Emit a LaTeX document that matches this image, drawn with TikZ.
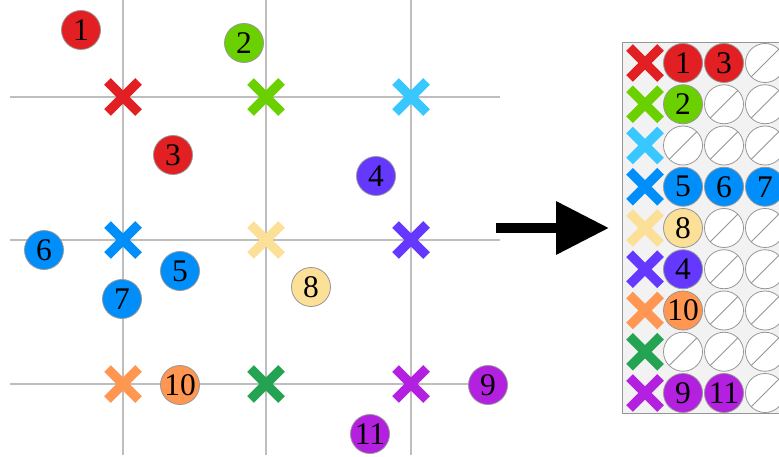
\documentclass[tikz,border=0pt]{standalone}
\usepackage{fontspec}
\setmainfont{Liberation Serif}
\usetikzlibrary{arrows.meta}

\definecolor{cred}{RGB}{226,32,35}
\definecolor{cgreen}{RGB}{106,208,0}
\definecolor{csky}{RGB}{56,200,255}
\definecolor{cblue}{RGB}{0,143,250}
\definecolor{cyellow}{RGB}{253,224,152}
\definecolor{cviolet}{RGB}{100,56,255}
\definecolor{corange}{RGB}{255,150,82}
\definecolor{cdkgreen}{RGB}{36,163,82}
\definecolor{cpurple}{RGB}{180,32,224}
\definecolor{gridgray}{RGB}{190,190,190}
\definecolor{rimgray}{RGB}{150,150,150}

\tikzset{
  dot/.style={circle, draw=rimgray, line width=0.8pt, fill=#1, minimum size=39pt,
    inner sep=0pt, font=\fontsize{31.5}{31.5}\selectfont},
  slot/.style={circle, draw=rimgray, line width=0.8pt, fill=white, minimum size=39pt,
    inner sep=0pt, path picture={\draw[rimgray, line width=0.8pt]
      (path picture bounding box.south west) -- (path picture bounding box.north east);}},
  cross/.pic={\draw[line width=9.5pt] (-15.5,-15.5) -- (15.5,15.5) (-15.5,15.5) -- (15.5,-15.5);},
}

\begin{document}
\begin{tikzpicture}[x=1pt, y=-1pt]
\useasboundingbox (0,0) rectangle (779,457);
% Grid lines
\foreach \x in {123,266,411}
  \draw[gridgray, line width=1.5pt] (\x,0) -- (\x,455);
\foreach \y in {97,240,384}
  \draw[gridgray, line width=1.5pt] (10,\y) -- (500,\y);
% Cluster centres
\pic[cred] at (123,97) {cross};
\pic[cgreen] at (266,97) {cross};
\pic[csky] at (411,97) {cross};
\pic[cblue] at (123,240) {cross};
\pic[cyellow] at (266,240) {cross};
\pic[cviolet] at (411,240) {cross};
\pic[corange] at (123,384) {cross};
\pic[cdkgreen] at (266,384) {cross};
\pic[cpurple] at (411,384) {cross};
% Points
\node[dot=cred] (p1) at (81,30) {1};
\node[dot=cgreen] (p2) at (244,43) {2};
\node[dot=cred] (p3) at (173,155) {3};
\node[dot=cviolet] (p4) at (376,176) {4};
\node[dot=cblue] (p5) at (180,271) {5};
\node[dot=cblue] (p6) at (44,250) {6};
\node[dot=cblue] (p7) at (122,299) {7};
\node[dot=cyellow] (p8) at (311,287) {8};
\node[dot=cpurple] (p9) at (488,385) {9};
\node[dot=corange] (p10) at (180,385) {10};
\node[dot=cpurple] (p11) at (370,434) {11};
% Arrow
\coordinate (from) at (496,228);
\coordinate (to) at (609,228);
\draw[line width=10pt, -{Triangle[length=53pt, width=51pt]}] (from) -- (to);
% Table of assignments
\draw[rimgray, fill=black!5, line width=1pt] (622,43) rectangle (810,413);
\foreach \c [count=\r] in {cred,cgreen,csky,cblue,cyellow,cviolet,corange,cdkgreen,cpurple}
  \pic[\c] at (645,{63+41.25*(\r-1)}) {cross};
% row 1
\node[dot=cred] (t1a) at (683,63) {1};
\node[dot=cred] (t1b) at (724,63) {3};
\node[slot] (t1c) at (765,63) {};
% row 2
\node[dot=cgreen] (t2a) at (683,104.25) {2};
\node[slot] (t2b) at (724,104.25) {};
\node[slot] (t2c) at (765,104.25) {};
% row 3
\node[slot] (t3a) at (683,145.5) {};
\node[slot] (t3b) at (724,145.5) {};
\node[slot] (t3c) at (765,145.5) {};
% row 4
\node[dot=cblue] (t4a) at (683,186.75) {5};
\node[dot=cblue] (t4b) at (724,186.75) {6};
\node[dot=cblue] (t4c) at (765,186.75) {7};
% row 5
\node[dot=cyellow] (t5a) at (683,228) {8};
\node[slot] (t5b) at (724,228) {};
\node[slot] (t5c) at (765,228) {};
% row 6
\node[dot=cviolet] (t6a) at (683,269.25) {4};
\node[slot] (t6b) at (724,269.25) {};
\node[slot] (t6c) at (765,269.25) {};
% row 7
\node[dot=corange] (t7a) at (683,310.5) {10};
\node[slot] (t7b) at (724,310.5) {};
\node[slot] (t7c) at (765,310.5) {};
% row 8
\node[slot] (t8a) at (683,351.75) {};
\node[slot] (t8b) at (724,351.75) {};
\node[slot] (t8c) at (765,351.75) {};
% row 9
\node[dot=cpurple] (t9a) at (683,393) {9};
\node[dot=cpurple] (t9b) at (724,393) {11};
\node[slot] (t9c) at (765,393) {};
\end{tikzpicture}
\end{document}
